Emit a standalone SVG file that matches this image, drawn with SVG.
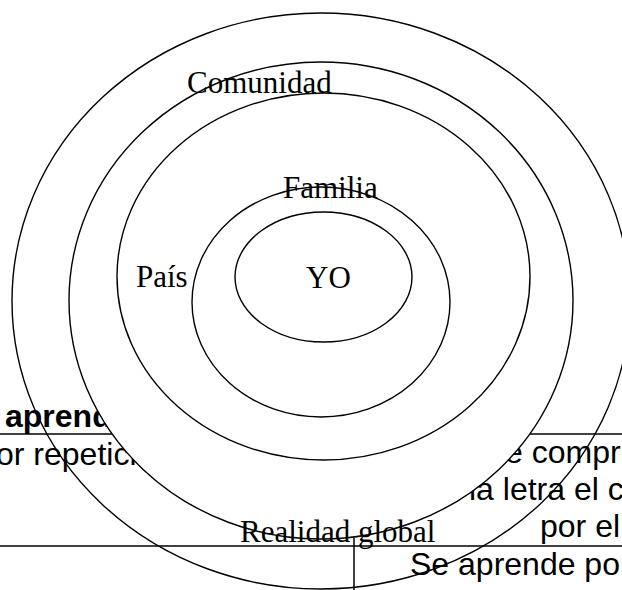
<svg xmlns="http://www.w3.org/2000/svg" width="622" height="590" viewBox="0 0 622 590">
<style>
.tbl{font-family:"Liberation Sans",Arial,sans-serif;font-size:32px;fill:#000}
.b{font-weight:bold}
.lbl{font-family:"Liberation Serif","Times New Roman",serif;font-size:31px;fill:#000}
.ln{stroke:#000;stroke-width:1.5;fill:none}
.ring{stroke:#000;stroke-width:1.4}
</style>
<rect width="622" height="590" fill="#fff"/>
<g id="table">
<line class="ln" x1="0" y1="434" x2="622" y2="434"/>
<line class="ln" x1="0" y1="546" x2="622" y2="546"/>
<line class="ln" x1="354" y1="538" x2="354" y2="590"/>
<text class="tbl b" x="5" y="427">aprend</text>
<text class="tbl" x="-4" y="465">or repetici</text>
<text class="tbl" x="505" y="463">e compr</text>
<text class="tbl" x="469" y="500">la letra el c</text>
<text class="tbl" x="540" y="537">por el</text>
<text class="tbl" x="410" y="575">Se aprende por</text>
</g>
<g id="realidad-global">
<ellipse class="ring" cx="321" cy="301" rx="309" ry="288" fill="none"/>
</g>
<g id="comunidad">
<ellipse class="ring" cx="321" cy="300.5" rx="252" ry="238.5" fill="#fff"/>
</g>
<g id="pais">
<ellipse class="ring" cx="323.5" cy="276.5" rx="206.5" ry="183.5" fill="#fff"/>
</g>
<g id="familia">
<ellipse class="ring" cx="321" cy="302" rx="129" ry="115" fill="#fff"/>
</g>
<g id="yo">
<ellipse class="ring" cx="323.5" cy="277" rx="88.5" ry="65" fill="#fff"/>
</g>
<g id="labels">
<text class="lbl" x="187" y="93">Comunidad</text>
<text class="lbl" x="283" y="198">Familia</text>
<text class="lbl" x="136" y="287">País</text>
<text class="lbl" x="306" y="288">YO</text>
<text class="lbl" x="240" y="542">Realidad global</text>
</g>
</svg>
